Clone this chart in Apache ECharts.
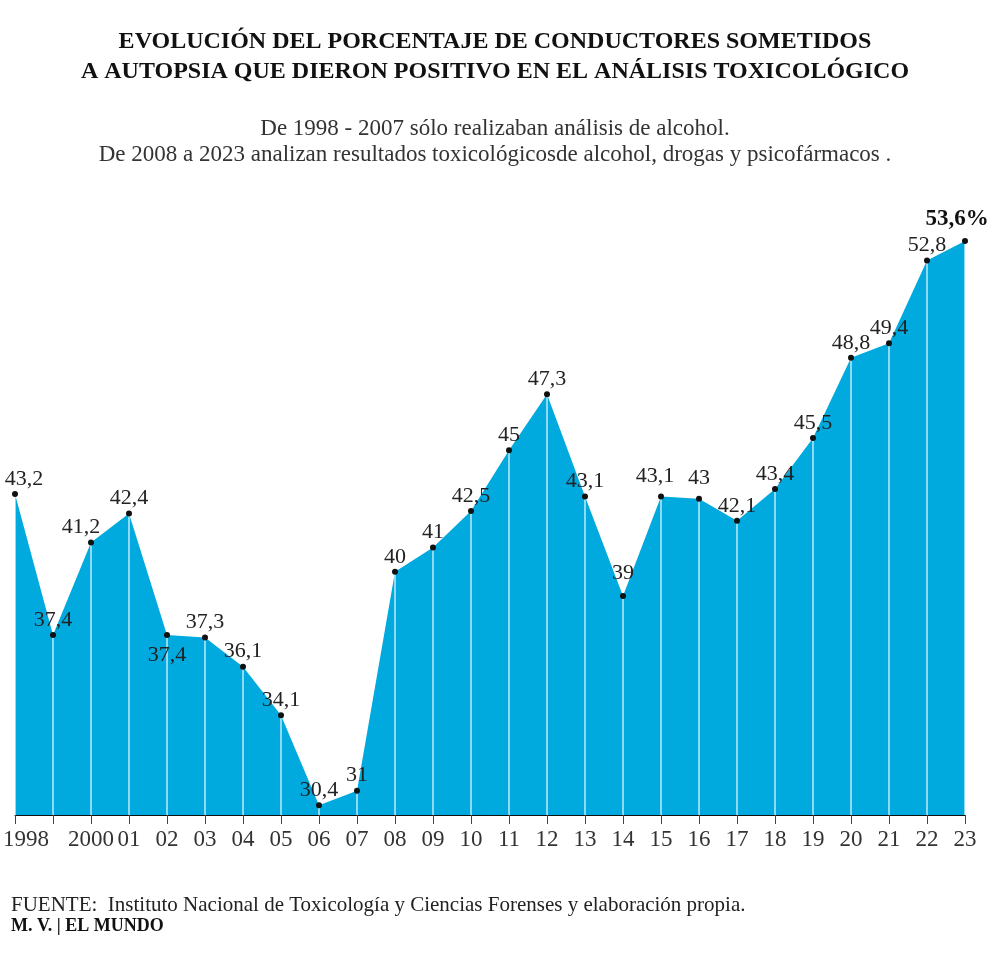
<!DOCTYPE html>
<html><head><meta charset="utf-8">
<script src="https://cdn.jsdelivr.net/npm/echarts@6/dist/echarts.min.js"></script>
<style>html,body{margin:0;padding:0;background:#fff}#c{width:990px;height:960px}</style>
</head><body><div id="c"></div>
<script>
const years = ['1998','1999','2000','01','02','03','04','05','06','07','08','09','10','11','12','13','14','15','16','17','18','19','20','21','22','23'];
const values = [43.2,37.4,41.2,42.4,37.4,37.3,36.1,34.1,30.4,31,40,41,42.5,45,47.3,43.1,39,43.1,43,42.1,43.4,45.5,48.8,49.4,52.8,53.6];
const titleText = 'EVOLUCIÓN DEL PORCENTAJE DE CONDUCTORES SOMETIDOS\nA AUTOPSIA QUE DIERON POSITIVO EN EL ANÁLISIS TOXICOLÓGICO';
const subtitleText = 'De 1998 - 2007 sólo realizaban análisis de alcohol.\nDe 2008 a 2023 analizan resultados toxicológicosde alcohol, drogas y psicofármacos .';
const sourceText = 'FUENTE:  Instituto Nacional de Toxicología y Ciencias Forenses y elaboración propia.';
const creditText = 'M. V. | EL MUNDO';

const FONT = '"Liberation Serif", serif';
const labelTweaks = {
  0:{offset:[9,0]}, 2:{offset:[-10,0]}, 4:{position:'bottom',distance:6},
  16:{offset:[0,-8]}, 17:{offset:[-6,-5]}, 18:{offset:[0,-6]}, 25:{offset:[-8,-6]}
};
const lastIdx = values.length - 1;

const labelData = values.map((v,i)=>{
  const d = {value:v};
  const t = labelTweaks[i];
  if (t || i===lastIdx) {
    d.label = Object.assign({}, t||{});
    if (i===lastIdx) { d.label.fontWeight='bold'; d.label.fontSize=23; d.label.color='#111';
      d.label.formatter = (p)=>String(p.value).replace('.',',')+'%'; }
  }
  return d;
});

const chart = echarts.init(document.getElementById('c'));
chart.setOption({
  animation:false,
  backgroundColor:'#fff',
  title:[
    {text:titleText,left:'center',top:22,textStyle:{fontFamily:FONT,fontWeight:'bold',fontSize:24,lineHeight:30,color:'#111'}},
    {text:subtitleText,left:'center',top:111,textStyle:{fontFamily:FONT,fontWeight:'normal',fontSize:23,lineHeight:26,color:'#333'}},
    {text:sourceText,left:6,top:890,textStyle:{fontFamily:FONT,fontWeight:'normal',fontSize:21,color:'#222'}},
    {text:creditText,left:6,top:912,textStyle:{fontFamily:FONT,fontWeight:'bold',fontSize:18,color:'#111'}}
  ],
  grid:{left:12,right:25,top:207,bottom:145},
  xAxis:{type:'category',data:years,boundaryGap:false,
    axisLine:{lineStyle:{color:'#111',width:1}},
    axisTick:{alignWithLabel:true,length:9,lineStyle:{color:'#444'},interval:0},
    axisLabel:{interval:(i)=>i!==1,margin:13,fontFamily:FONT,fontSize:23,color:'#333',
      formatter:(v,i)=> i===0 ? '{f|'+v+'}' : v,
      rich:{f:{width:24,align:'left',fontFamily:FONT,fontSize:23,color:'#333'}}}
  },
  yAxis:{type:'value',min:30,max:55,show:false,splitLine:{show:false}},
  series:[
    {type:'line',data:values,symbol:'none',lineStyle:{width:0},areaStyle:{color:'#00aade',opacity:1},z:1},
    {type:'bar',data:values,barWidth:1.5,itemStyle:{color:'rgba(255,255,255,0.75)'},z:2,silent:true},
    {type:'line',data:labelData,symbol:'circle',symbolSize:6,itemStyle:{color:'#111'},lineStyle:{width:0},z:3,
      label:{show:true,position:'top',distance:1,fontFamily:FONT,fontSize:22,color:'#222',
        formatter:(p)=>String(p.value).replace('.',',')}}
  ]
});
</script></body></html>
